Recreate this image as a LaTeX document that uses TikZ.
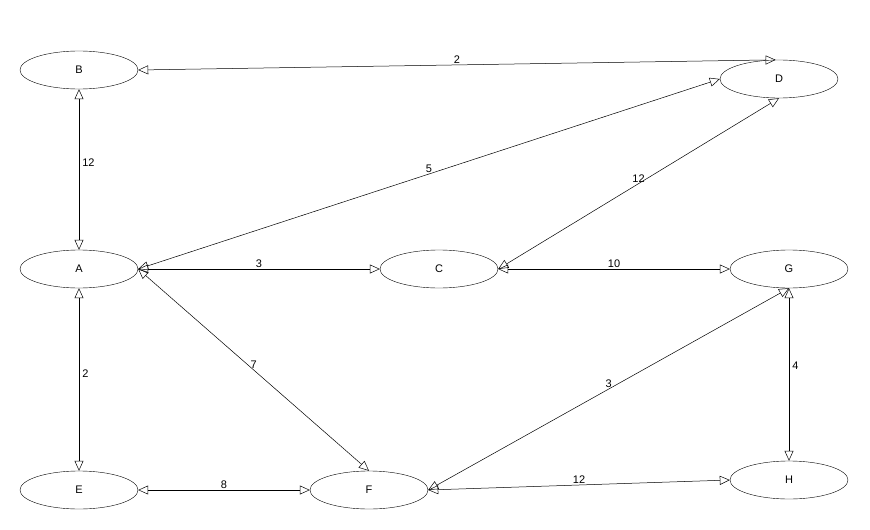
\documentclass[tikz,border=0pt]{standalone}
\usepackage{fontspec}
\setmainfont{Liberation Sans}
\usetikzlibrary{arrows.meta,shapes.geometric}
\begin{document}
\begin{tikzpicture}[x=1pt,y=-1pt,
  st/.style={draw,ellipse,minimum width=118pt,minimum height=38pt,inner sep=0pt,font=\fontsize{11}{13}\selectfont},
  con/.style={draw,{Triangle[open,length=10pt,width=9pt]}-{Triangle[open,length=10pt,width=9pt]},line width=0.5pt},
  lb/.style={font=\fontsize{11}{13}\selectfont,fill=none,inner sep=1pt}]
\useasboundingbox (0,0) rectangle (870,530);
\node[st] (B) at (79,70) {B};
\node[st] (D) at (779,79) {D};
\node[st] (A) at (79,269) {A};
\node[st] (C) at (439,269) {C};
\node[st] (G) at (789,269) {G};
\node[st] (E) at (79,490) {E};
\node[st] (F) at (369,490) {F};
\node[st] (H) at (789,480) {H};
\draw[con] (B.east) -- (D.100) node[lb,pos=0.5,above]{2};
\draw[con] (B.south) -- (A.north) node[lb,pos=0.46,right,xshift=2pt]{12};
\draw[con] (A.east) -- (D.west) node[lb,pos=0.5,above]{5};
\draw[con] (C.east) -- (D.south) node[lb,pos=0.5,above]{12};
\draw[con] (A.east) -- (C.west) node[lb,pos=0.5,above]{3};
\draw[con] (C.east) -- (G.west) node[lb,pos=0.5,above]{10};
\draw[con] (A.east) -- (F.north) node[lb,pos=0.5,above]{7};
\draw[con] (A.south) -- (E.north) node[lb,pos=0.47,right,xshift=2pt]{2};
\draw[con] (G.south) -- (F.east) node[lb,pos=0.5,above]{3};
\draw[con] (G.south) -- (H.north) node[lb,pos=0.45,right,xshift=2pt]{4};
\draw[con] (E.east) -- (F.west) node[lb,pos=0.5,above]{8};
\draw[con] (F.east) -- (H.west) node[lb,pos=0.5,above]{12};
\end{tikzpicture}
\end{document}
